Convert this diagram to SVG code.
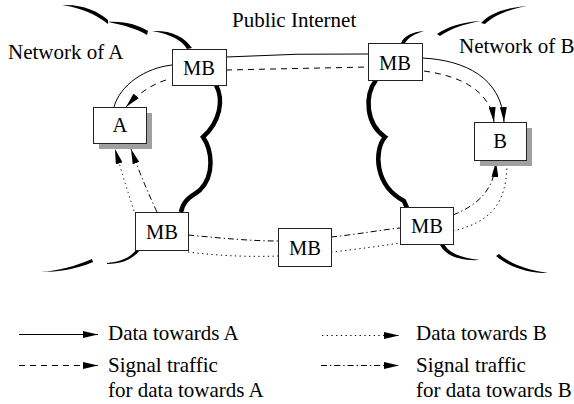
<svg xmlns="http://www.w3.org/2000/svg" width="574" height="404" viewBox="0 0 574 404">
  <style>
    text { font-family: "Liberation Serif", "Times New Roman", serif; font-size: 21px; fill: #000; }
    .mid { text-anchor: middle; font-size: 20.5px; }
    .box { fill: #fff; stroke: #222; stroke-width: 1; }
    .shadow { fill: #a0a0a0; }
    .edge { fill: none; stroke: #000; stroke-width: 1; }
    .dashed { stroke-dasharray: 6 5; }
    .dotted { stroke-dasharray: 1.3 3.4; }
    .dashdot { stroke-dasharray: 6 3 1.3 3; }
    .border { fill: none; stroke: #000; stroke-width: 4.5; }
    .cloud { fill: #000; stroke: none; }
  </style>
  <defs>
    <marker id="arrow" viewBox="0 0 15 7" refX="15" refY="3.5" markerWidth="15" markerHeight="7" markerUnits="userSpaceOnUse" orient="auto">
      <path d="M0,0 L15,3.5 L0,7 Z" fill="#000"/>
    </marker>
  </defs>

  <!-- network boundaries (cloud outlines) -->
  <g id="clouds">
    <!-- Network of A, upper edge -->
    <path class="cloud" d="M62,5 C82,4 98,11 108,20 L108,24 C97,15 82,8 62,5 Z"/>
    <path class="cloud" d="M108,22 C125,21 138,25 148,31 L147,35 C137,29 124,25 108,22 Z"/>
    <path class="cloud" d="M152,31 C170,30 184,36 192,48 L187,49 C182,40 170,34 152,31 Z"/>
    <!-- Network of A, lower edge -->
    <path class="cloud" d="M40,272 C58,271 76,266 92,259 L93,262 C77,269 58,272 40,272 Z"/>
    <path class="cloud" d="M107,263 C120,262 130,258 137,249 L140,250 C133,259 122,264 107,264 Z"/>
    <!-- Network of B, upper edge -->
    <path class="cloud" d="M401,43 C404,36 412,32 424,31 C414,34 408,38 405,43 Z"/>
    <path class="cloud" d="M437,34 C447,27 462,22 481,21 C463,24 450,29 440,36 Z"/>
    <path class="cloud" d="M481,23 C489,14 503,8 527,6 C507,10 495,15 485,24 Z"/>
    <!-- Network of B, lower edge -->
    <path class="cloud" d="M440,245 L444,244 C450,254 462,258 480,260 C460,261 446,256 440,245 Z"/>
    <path class="cloud" d="M496,256 L499,254 C510,264 528,270 548,273 C526,273 508,266 496,256 Z"/>
    <!-- border between Network of A and the Internet -->
    <path class="border" d="M216,85 C224,100 220,122 203,137 C212,150 215,175 200,190 C192,197 184,198 181,212"/>
    <!-- border between the Internet and Network of B -->
    <path class="border" d="M376,80 C364,96 366,124 385,137 C374,150 374,185 404,201 L407,208"/>
  </g>

  <!-- traffic paths -->
  <g id="connectors">
    <!-- data towards A (solid) -->
    <path class="edge" d="M226,57 Q297,53 368,54"/>
    <path class="edge" d="M172,65 C145,68 120,85 114,107"/>
    <path class="edge" d="M422,58 C465,60 502,78 504,122" marker-end="url(#arrow)"/>
    <!-- signal traffic for data towards A (dashed) -->
    <path class="edge dashed" d="M226,70 L368,67"/>
    <path class="edge dashed" d="M166,80 C150,85 137,95 126,107" marker-end="url(#arrow)"/>
    <path class="edge dashed" d="M424,71 C460,76 490,90 494,122" marker-end="url(#arrow)"/>
    <!-- data towards B (dotted) -->
    <path class="edge dotted" d="M134,211 Q124,180 115,149" marker-end="url(#arrow)"/>
    <path class="edge dotted" d="M188,252 C220,256 250,257 278,256"/>
    <path class="edge dotted" d="M331,252 C360,249 380,246 400,243"/>
    <path class="edge dotted" d="M453,231 C490,222 506,205 507,165"/>
    <!-- signal traffic for data towards B (dash-dot) -->
    <path class="edge dashdot" d="M157,212 Q142,180 131,149" marker-end="url(#arrow)"/>
    <path class="edge dashdot" d="M188,235 C220,238 250,241 278,241"/>
    <path class="edge dashdot" d="M331,237 C360,234 380,230 400,228"/>
    <path class="edge dashdot" d="M453,215 C478,205 494,190 496,162" marker-end="url(#arrow)"/>
  </g>

  <!-- hosts -->
  <g id="host-a">
    <rect class="shadow" x="99" y="113" width="53" height="36"/>
    <rect class="box" x="93.5" y="107.5" width="53" height="36"/>
    <text class="mid" x="120" y="132">A</text>
  </g>
  <g id="host-b">
    <rect class="shadow" x="480" y="128" width="52" height="38"/>
    <rect class="box" x="474.5" y="122.5" width="52" height="38"/>
    <text class="mid" x="500" y="148">B</text>
  </g>

  <!-- middleboxes -->
  <g id="mb-a-edge">
    <rect class="box" x="172.5" y="49.5" width="54" height="36"/>
    <text class="mid" x="199" y="75">MB</text>
  </g>
  <g id="mb-b-edge">
    <rect class="box" x="368.5" y="43.5" width="54" height="37"/>
    <text class="mid" x="395" y="70">MB</text>
  </g>
  <g id="mb-a-lower">
    <rect class="box" x="135.5" y="212.5" width="53" height="38"/>
    <text class="mid" x="162" y="239">MB</text>
  </g>
  <g id="mb-core">
    <rect class="box" x="278.5" y="228.5" width="53" height="38"/>
    <text class="mid" x="305" y="255">MB</text>
  </g>
  <g id="mb-b-lower">
    <rect class="box" x="400.5" y="207.5" width="53" height="37"/>
    <text class="mid" x="427" y="233">MB</text>
  </g>

  <!-- region labels -->
  <g id="labels">
    <text x="232" y="27">Public Internet</text>
    <text x="8" y="59">Network of A</text>
    <text x="459" y="53">Network of B</text>
  </g>

  <!-- legend -->
  <g id="legend">
    <path class="edge" d="M19,334.5 L98,334.5" marker-end="url(#arrow)"/>
    <text x="108" y="340">Data towards A</text>
    <path class="edge dashed" d="M19,365.5 L98,365.5" marker-end="url(#arrow)"/>
    <text x="108" y="372">Signal traffic</text>
    <text x="108" y="397">for data towards A</text>

    <path class="edge dotted" d="M322,335.5 L399,335.5" marker-end="url(#arrow)"/>
    <text x="416" y="340">Data towards B</text>
    <path class="edge dashdot" d="M321,365.5 L399,365.5" marker-end="url(#arrow)"/>
    <text x="416" y="372">Signal traffic</text>
    <text x="416" y="397">for data towards B</text>
  </g>
</svg>
